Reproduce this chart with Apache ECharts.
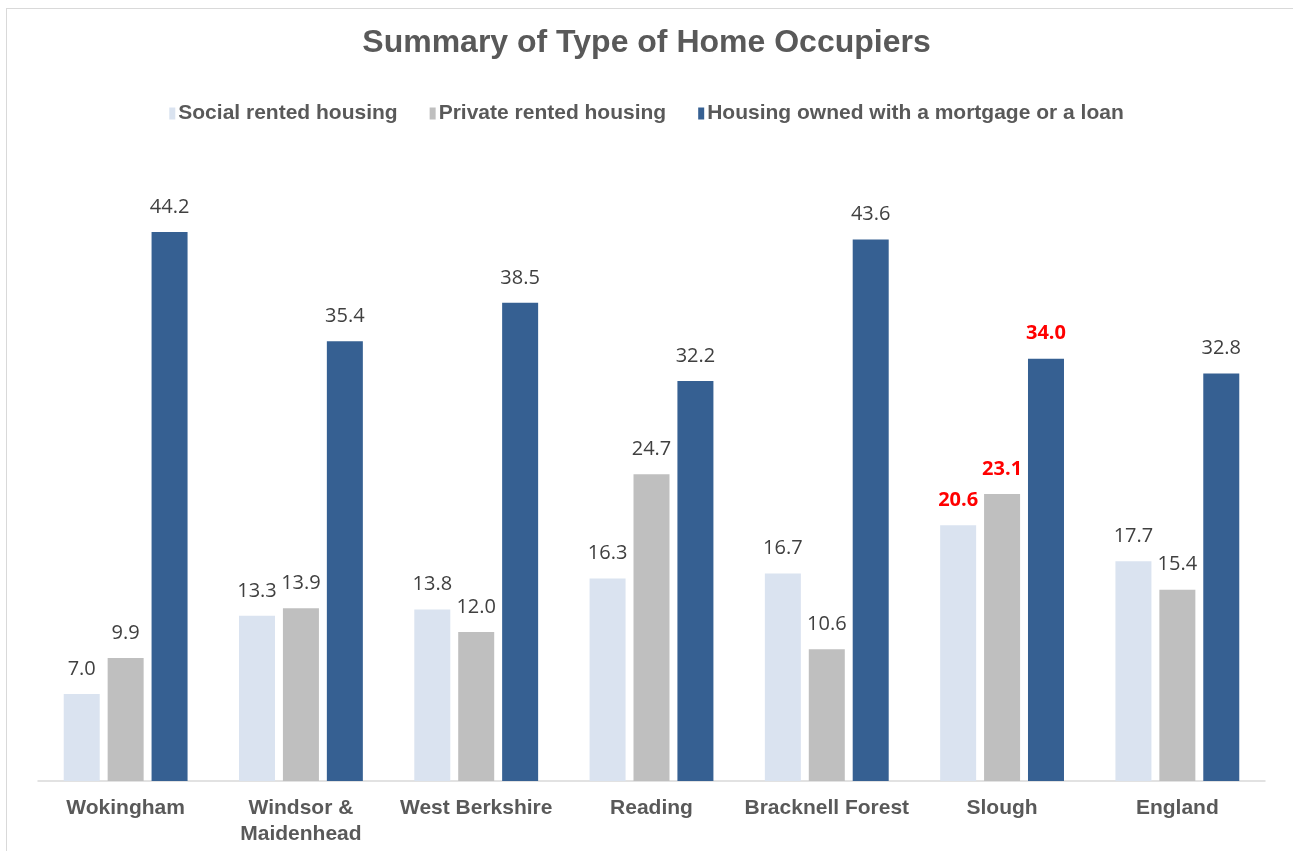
<!DOCTYPE html>
<html>
	<head>
		<meta charset="utf-8" />
		<title>Summary of Type of Home Occupiers</title>
		<script src="https://cdn.jsdelivr.net/npm/echarts@6/dist/echarts.min.js"></script>
		<style>
			body { margin: 0; background: #fff; }
			#frame { position: absolute; left: 6px; top: 8px; width: 1300px; height: 900px; border: 1px solid #d9d9d9; }
			#main { position: absolute; left: 0; top: 0; width: 1293px; height: 851px; }
		</style>
	</head>
	<body>
		<div id="frame"></div>
		<div id="main"></div>
	<script type="text/javascript">
		var areas = ['Wokingham', 'Windsor &\nMaidenhead', 'West Berkshire', 'Reading', 'Bracknell Forest', 'Slough', 'England'];
		var socialRented = [7.0, 13.3, 13.8, 16.3, 16.7, 20.6, 17.7];
		var privateRented = [9.9, 13.9, 12.0, 24.7, 10.6, 23.1, 15.4];
		var ownedMortgage = [44.2, 35.4, 38.5, 32.2, 43.6, 34.0, 32.8];
		var highlightIndex = 5; // Slough labels in red

		function withHighlight(values) {
			return values.map(function (v, i) {
				if (i === highlightIndex) {
					return { value: v, label: { color: '#ff0000', fontWeight: 'bold' } };
				}
				return v;
			});
		}

		var labelStyle = {
			show: true,
			position: 'top',
			distance: 15,
			fontSize: 20,
			color: '#404040',
			fontFamily: 'Open Sans',
			formatter: function (p) { return p.value.toFixed(1); }
		};

		var chart = echarts.init(document.getElementById('main'));
		var option = {
			title: {
					text: 'Summary of Type of Home Occupiers',
					left: 'center',
					top: 22,
					textStyle: { fontSize: 32, fontWeight: 'bold', color: '#595959', fontFamily: 'Liberation Sans' }
			},
			legend: {
				top: 98,
				left: 'center',
				itemWidth: 6,
				itemHeight: 12,
				itemGap: 32,
				icon: 'rect',
				textStyle: { fontSize: 21, fontWeight: 'bold', color: '#595959', fontFamily: 'Liberation Sans', padding: [0, 0, 0, -2] }
			},
			grid: { left: 38, right: 28, top: 160, bottom: 70 },
			xAxis: {
				type: 'category',
				data: areas,
				axisLine: { lineStyle: { color: '#d9d9d9', width: 1.5 } },
				axisTick: { show: false },
				axisLabel: {
					fontSize: 21, fontWeight: 'bold', color: '#595959', fontFamily: 'Liberation Sans',
					margin: 14, lineHeight: 26, interval: 0
				}
			},
			yAxis: { type: 'value', min: 0, max: 50, show: false, splitLine: { show: false } },
			series: [
				{ name: 'Social rented housing', type: 'bar', barWidth: 36, barGap: '22%', itemStyle: { color: '#dae3f0' }, label: labelStyle, data: withHighlight(socialRented) },
				{ name: 'Private rented housing', type: 'bar', barWidth: 36, barGap: '22%', itemStyle: { color: '#bfbfbf' }, label: labelStyle, data: withHighlight(privateRented) },
				{ name: 'Housing owned with a mortgage or a loan', type: 'bar', barWidth: 36, barGap: '22%', itemStyle: { color: '#366092' }, label: labelStyle, data: withHighlight(ownedMortgage) }
			]
		};
		chart.setOption(option);
	</script>
	</body>
</html>
